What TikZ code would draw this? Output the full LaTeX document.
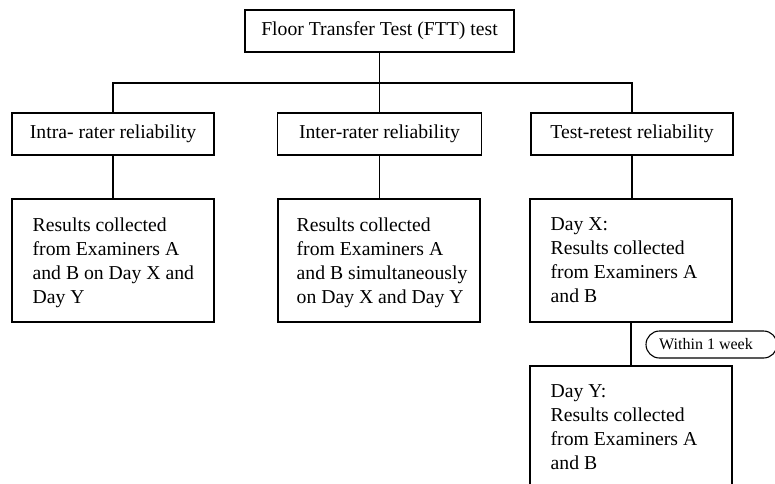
\documentclass[tikz,border=0pt]{standalone}
\usepackage{fontspec}
\setmainfont{Liberation Serif}
\begin{document}
\begin{tikzpicture}[x=1pt,y=-1pt,
  every node/.style={font=\fontsize{19.7}{24}\selectfont},
  line/.style={draw=black,line width=1.1pt},
  hbox/.style={line,rectangle,minimum width=202pt,minimum height=42pt,inner sep=0pt},
  resbox/.style={line,rectangle,minimum width=202pt,minimum height=123pt,inner sep=0pt},
  restext/.style={align=left,inner sep=0pt,anchor=north west},
  pill/.style={line,rectangle,rounded corners=13.5pt,minimum width=131pt,minimum height=27pt,inner sep=0pt},
  pilltext/.style={inner sep=0pt,font=\fontsize{16}{19}\selectfont}]
\useasboundingbox (0,0) rectangle (775,483);
\clip (0,0) rectangle (775,483);
\node[hbox,minimum width=269pt] (top) at (379.5,31) {Floor Transfer Test (FTT) test};
\node[hbox] (intra) at (113,134) {Intra- rater reliability};
\node[hbox,minimum width=204pt] (inter) at (379.5,134) {Inter-rater reliability};
\node[hbox] (test) at (632,134) {Test-retest reliability};
\node[resbox] (r1) at (113,260.5) {};
\node[resbox] (r2) at (379,260.5) {};
\node[resbox] (dx) at (631,260.5) {};
\node[resbox] (dy) at (631,427.5) {};
\node[restext] (r1t) at ([shift={(21,19)}]r1.north west) {Results collected\\from Examiners A\\and B on Day X and\\Day Y};
\node[restext] (r2t) at ([shift={(19,19)}]r2.north west) {Results collected\\from Examiners A\\and B simultaneously\\on Day X and Day Y};
\node[restext] (dxt) at ([shift={(21,19)}]dx.north west) {Day X:\\Results collected\\from Examiners A\\and B};
\node[restext] (dyt) at ([shift={(21,19)}]dy.north west) {Day Y:\\Results collected\\from Examiners A\\and B};
\node[pill] (wk) at (711.5,344.5) {};
\node[pilltext] (wkt) at (706,344.5) {Within 1 week};
\coordinate (bar) at (379.5,83);
\draw[line] (top.south) -- (inter.north);
\draw[line] (intra.north) |- (bar) -| (test.north);
\draw[line] (intra.south) -- (r1.north);
\draw[line] (inter.south) -- (inter.south |- r2.north);
\draw[line] (test.south) -- (test.south |- dx.north);
\draw[line] (dx.south) -- (dy.north);
\end{tikzpicture}
\end{document}
